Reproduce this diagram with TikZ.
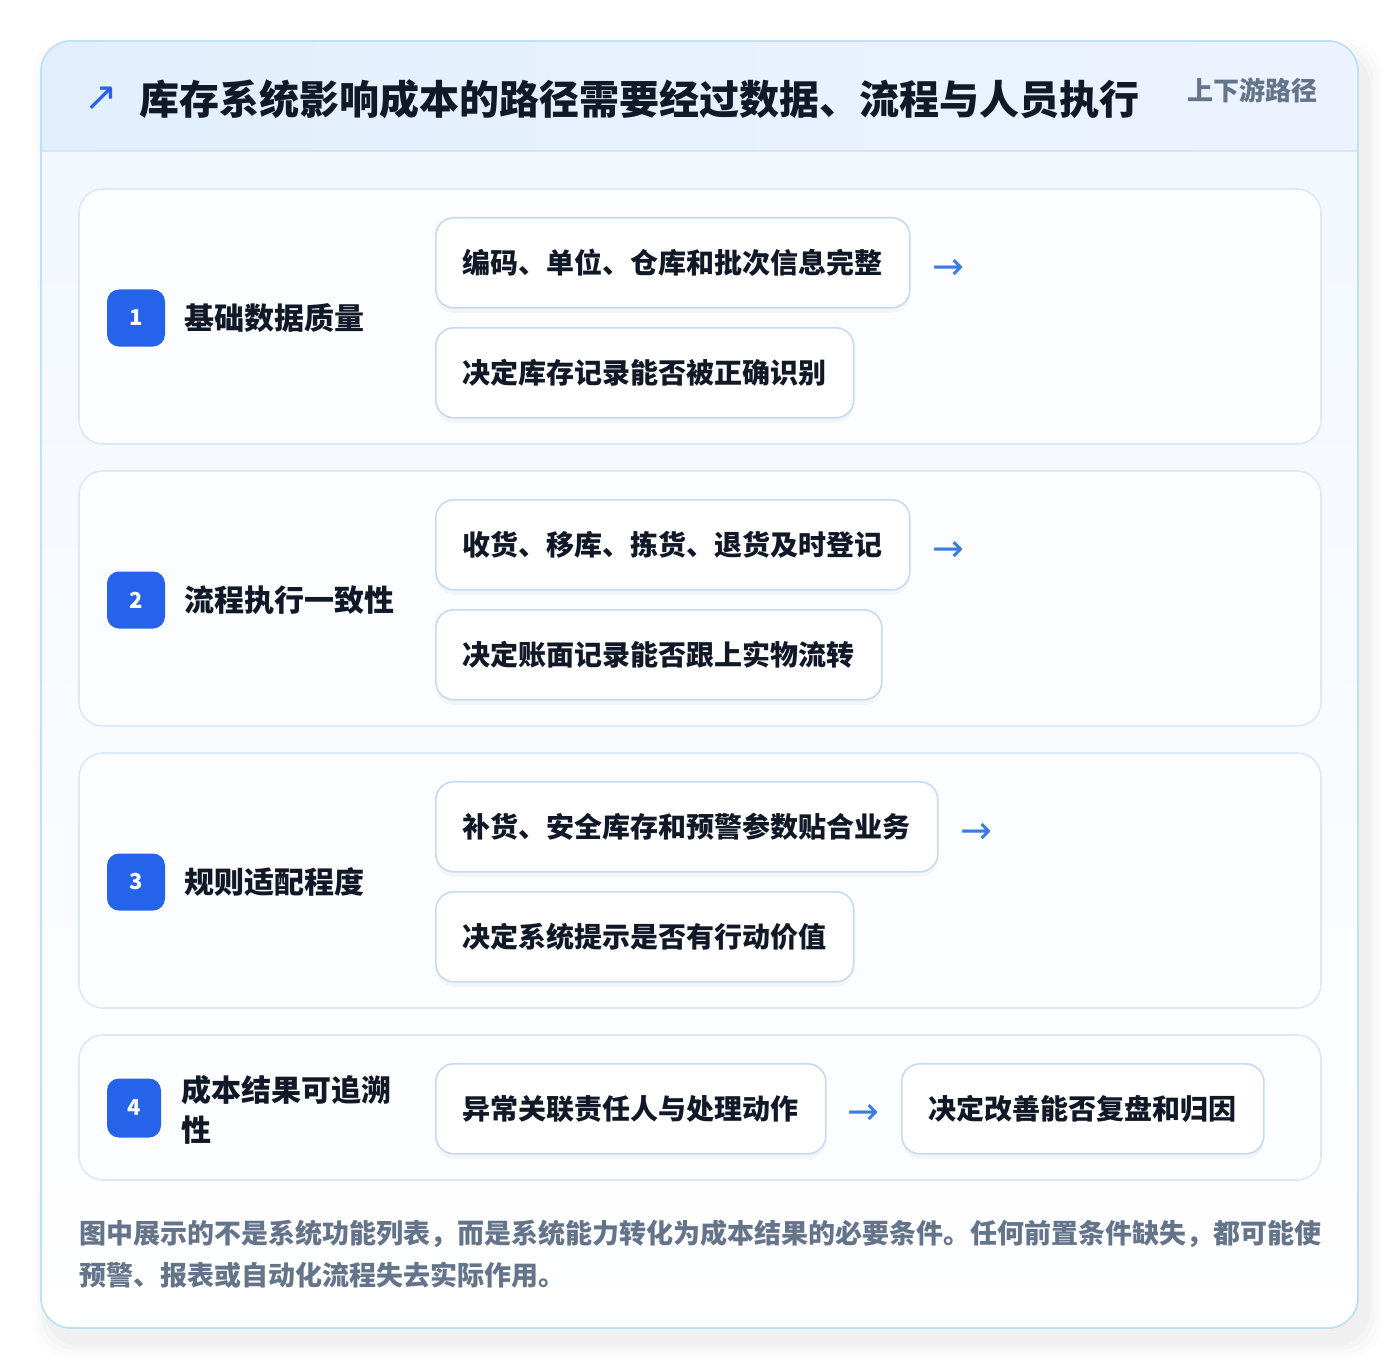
\documentclass[tikz,border=0pt]{standalone}
\usepackage{fontspec}
\setmainfont{Noto Sans CJK SC}
\newfontfamily\symfont{DejaVu Sans}
\usetikzlibrary{shadows,calc}
\definecolor{bluebadge}{HTML}{2563EB}
\definecolor{darktext}{HTML}{111827}
\definecolor{graytext}{HTML}{64748B}
\definecolor{arrowblue}{HTML}{3B7DDD}
\definecolor{boxborder}{HTML}{C5DAF5}
\definecolor{cardborder}{HTML}{DCE9F8}
\definecolor{outerborder}{HTML}{BFE0F5}
\definecolor{headA}{HTML}{E1EFFC}
\definecolor{headB}{HTML}{EDF3FE}
\definecolor{headline}{HTML}{D3E6F8}
\definecolor{cardfill}{HTML}{FCFDFF}
\definecolor{bodytop}{HTML}{F1F7FE}
\tikzset{
  card/.style={draw=cardborder, line width=1.6pt, fill=cardfill, rounded corners=24pt},
  badge/.style={fill=bluebadge, rounded corners=12pt, minimum width=58pt, minimum height=57pt, inner sep=0pt, text=white, font=\bfseries\fontsize{22}{24}\selectfont},
  lab/.style={anchor=west, inner sep=0pt, text=darktext, font=\bfseries\fontsize{30}{40}\selectfont},
  stepbox/.style={draw=boxborder, line width=1.6pt, fill=white, rounded corners=18pt, minimum height=90pt, inner xsep=27pt, inner ysep=0pt, anchor=north west, text=darktext, font=\bfseries\fontsize{28}{30}\selectfont,
     drop shadow={shadow xshift=0pt, shadow yshift=-5pt, opacity=0.03, fill=black}},
  arr/.style={text=arrowblue, inner sep=0pt, font=\symfont\fontsize{38}{38}\selectfont},
}
\begin{document}
\begin{tikzpicture}[x=1pt,y=-1pt]
\useasboundingbox (0,0) rectangle (1400,1372);
\fill[white] (0,0) rectangle (1400,1372);
% outer shadow
\foreach \i/\o in {16/0.01,12/0.012,8/0.015,4/0.02}{
  \fill[black, opacity=\o, rounded corners=34pt] (41-\i+8,41-\i+14) rectangle (1358+\i+8,1328+\i+14);
}
% outer card
\path[shade, top color=bodytop, bottom color=white, rounded corners=30pt] (41,41) rectangle (1358,1328);
\begin{scope}
  \clip[rounded corners=30pt] (41,41) rectangle (1358,1328);
  \shade[left color=headA, right color=headB] (41,41) rectangle (1358,151);
  \draw[headline, line width=1.6pt] (41,151) -- (1358,151);
\end{scope}
\draw[outerborder, line width=1.8pt, rounded corners=30pt] (41,41) rectangle (1358,1328);
% header
\node[anchor=center, inner sep=0pt, text=bluebadge, font=\symfont\fontsize{40}{40}\selectfont] (icon) at (101,99) {↗};
\node[anchor=west, inner sep=0pt, text=darktext, font=\bfseries\fontsize{40}{44}\selectfont] (title) at (139,99) {库存系统影响成本的路径需要经过数据、流程与人员执行};
\node[anchor=east, inner sep=0pt, text=graytext, font=\bfseries\fontsize{26}{30}\selectfont] (tag) at (1318,90) {上下游路径};
% cards
\draw[card] (79,189) rectangle (1321,444);
\draw[card] (79,471) rectangle (1321,726);
\draw[card] (79,753) rectangle (1321,1008);
\draw[card] (79,1035) rectangle (1321,1180);
% row 1
\node[badge] (b1) at (136,318) {1};
\node[lab] (l1) at (184,318) {基础数据质量};
\node[stepbox] (s1a) at (435,217) {编码、单位、仓库和批次信息完整};
\node[stepbox] (s1b) at (435,327) {决定库存记录能否被正确识别};
\node[arr] (a1) at (948,269) {→};
% row 2
\node[badge] (b2) at (136,600) {2};
\node[lab] (l2) at (184,600) {流程执行一致性};
\node[stepbox] (s2a) at (435,499) {收货、移库、拣货、退货及时登记};
\node[stepbox] (s2b) at (435,609) {决定账面记录能否跟上实物流转};
\node[arr] (a2) at (948,551) {→};
% row 3
\node[badge] (b3) at (136,882) {3};
\node[lab] (l3) at (184,882) {规则适配程度};
\node[stepbox] (s3a) at (435,781) {补货、安全库存和预警参数贴合业务};
\node[stepbox] (s3b) at (435,891) {决定系统提示是否有行动价值};
\node[arr] (a3) at (976,833) {→};
% row 4
\node[badge, minimum width=54pt, minimum height=59pt] (b4) at (134,1108) {4};
\node[lab, align=left] (l4) at (181,1110) {成本结果可追溯\\性};
\node[stepbox] (s4a) at (435,1063) {异常关联责任人与处理动作};
\node[stepbox] (s4b) at (901,1063) {决定改善能否复盘和归因};
\node[arr] (a4) at ($(s4a.east)!0.5!(s4b.west)+(0,6)$) {→};
% footer
\node[anchor=north west, inner sep=0pt, align=left, text=graytext, font=\bfseries\fontsize{27}{42}\selectfont] (foot) at (79,1220) {图中展示的不是系统功能列表，而是系统能力转化为成本结果的必要条件。任何前置条件缺失，都可能使\\预警、报表或自动化流程失去实际作用。};
\end{tikzpicture}
\end{document}
